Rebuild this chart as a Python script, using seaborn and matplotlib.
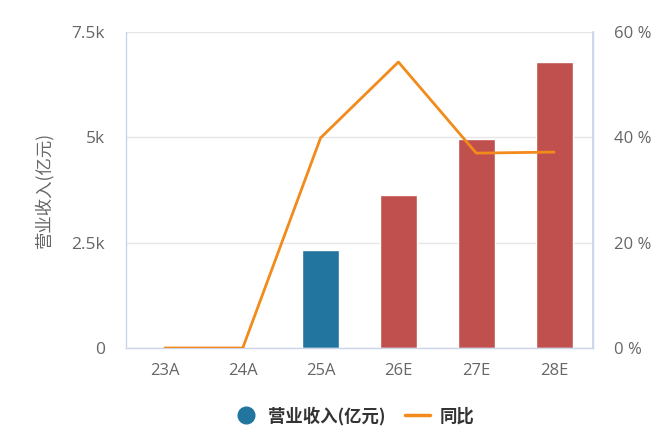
import numpy as np
import pandas as pd
import matplotlib
matplotlib.use("Agg")
import matplotlib.pyplot as plt
from matplotlib.lines import Line2D
from matplotlib.ticker import FixedLocator
import seaborn as sns

categories = ["23A", "24A", "25A", "26E", "27E", "28E"]
revenue = [0, 0, 2330, 3630, 4960, 6790]
growth = [0.0, 0.0, 39.9, 54.3, 37.0, 37.2]
bar_colors = ["#c0504d", "#c0504d", "#21759f", "#c0504d", "#c0504d", "#c0504d"]
left_ticks = [0, 2500, 5000, 7500]
left_labels = ["0", "2.5k", "5k", "7.5k"]
right_ticks = [0, 20, 40, 60]
right_labels = ["0 %", "20 %", "40 %", "60 %"]
legend_labels = ["营业收入(亿元)", "同比"]
ylabel = "营业收入(亿元)"

sns.set_theme(style="white")
plt.rcParams['font.family'] = ['Open Sans', 'Noto Sans CJK SC', 'DejaVu Sans']

fig = plt.figure(figsize=(6.6, 4.37), dpi=100)
ax = fig.add_axes([126/660, 1-348/437, (593-126)/660, (348-32)/437])

df = pd.DataFrame({"cat": categories, "rev": revenue})
sns.barplot(data=df, x="cat", y="rev", hue="cat", palette=bar_colors,
            width=0.475, legend=False, ax=ax, saturation=1)

ax.set_xlim(-0.5, 5.5)
ax.set_ylim(0, 7500)
ax.set_yticks(left_ticks)
ax.set_yticklabels(left_labels)
ax.yaxis.grid(True, color="#e6e6e6", linewidth=1)
ax.set_axisbelow(True)
ax.set_xlabel("")
ax.set_ylabel(ylabel, color="#666666", fontsize=12.5,
              family=['Noto Sans CJK SC', 'DejaVu Sans'])
ax.yaxis.set_label_coords((53-126)/467, 0.5)

tick_color = "#666666"
ax.tick_params(axis="y", length=0, labelsize=12.5, labelcolor=tick_color, pad=15)
ax.tick_params(axis="x", which="major", length=0, labelsize=12, labelcolor=tick_color, pad=11)
ax.xaxis.set_minor_locator(FixedLocator(np.arange(-0.5, 6.0, 1.0)))
ax.tick_params(axis="x", which="minor", length=8, color="#ccd6eb", width=1)

ax.spines["top"].set_visible(False)
for s in ["left", "right", "bottom"]:
    ax.spines[s].set_color("#ccd6eb")
    ax.spines[s].set_linewidth(1)

ax2 = ax.twinx()
sns.lineplot(x=np.arange(len(categories)), y=growth, color="#f28a1c",
             linewidth=2, ax=ax2)
ax2.set_ylim(0, 60)
ax2.set_yticks(right_ticks)
ax2.set_yticklabels(right_labels)
ax2.tick_params(axis="y", length=0, labelsize=12, labelcolor=tick_color, pad=15)
ax2.set_ylabel("")
ax2.grid(False)
for s in ["top", "left", "bottom"]:
    ax2.spines[s].set_visible(False)
ax2.spines["right"].set_color("#ccd6eb")
ax2.set_xlim(-0.5, 5.5)

handles = [
    Line2D([0], [0], marker="o", linestyle="none", markersize=12,
           markerfacecolor="#21759f", markeredgecolor="#21759f"),
    Line2D([0], [0], color="#f28a1c", linewidth=2.5),
]
leg = fig.legend(handles, legend_labels, loc="center", bbox_to_anchor=(354/660, 1-416/437),
                 ncol=2, frameon=False, handlelength=1.4, columnspacing=1.15,
                 handletextpad=0.55,
                 prop={"weight": "bold", "size": 12.5, "family": ['Noto Sans CJK SC', 'DejaVu Sans']})
for t in leg.get_texts():
    t.set_color("#333333")

fig.savefig("out.png", dpi=100)
